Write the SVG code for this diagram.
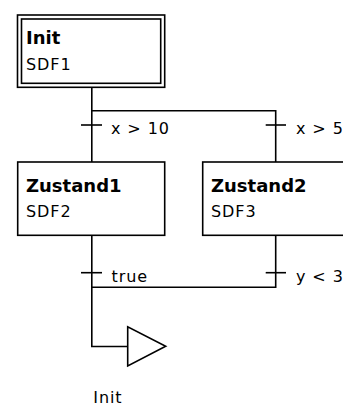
<svg xmlns="http://www.w3.org/2000/svg" width="343" height="407" viewBox="0 0 343 407">
<style>
.box{fill:#fff;stroke:#000;stroke-width:1.6}
.ln{fill:none;stroke:#000;stroke-width:1.6}
.t{font-family:"DejaVu Sans",Verdana,sans-serif;font-size:18px;font-weight:bold;fill:#000}
.s{font-family:"DejaVu Sans",Verdana,sans-serif;font-size:16px;letter-spacing:0.9px;fill:#000}
</style>
<rect width="343" height="407" fill="#fff"/>
<g id="connectors">
<path class="ln" d="M91.8 87.3V110.7H275.7V162"/>
<path class="ln" d="M91.8 110.7V162"/>
<path class="ln" d="M81 125H102"/>
<path class="ln" d="M265.7 125H286"/>
<path class="ln" d="M91.8 235.3V346.5H127.7"/>
<path class="ln" d="M275.7 235.3V287.3H91.8"/>
<path class="ln" d="M81 272.7H102"/>
<path class="ln" d="M265.7 272.7H286"/>
<text class="s" x="111" y="133.5">x &gt; 10</text>
<text class="s" x="296" y="133.5">x &gt; 5</text>
<text class="s" x="111.5" y="282">true</text>
<text class="s" x="296" y="282">y &lt; 3</text>
</g>
<g id="Init">
<rect class="box" x="17.5" y="15" width="147.2" height="72.3"/>
<rect class="box" x="21.5" y="19" width="139.2" height="64.3"/>
<text class="t" x="26" y="44">Init</text>
<text class="s" x="26" y="70">SDF1</text>
</g>
<g id="Zustand1">
<rect class="box" x="17.7" y="162" width="147" height="73.3"/>
<text class="t" x="26" y="191.7">Zustand1</text>
<text class="s" x="26" y="216.7">SDF2</text>
</g>
<g id="Zustand2">
<rect class="box" x="202.7" y="162" width="147" height="73.3"/>
<text class="t" x="211" y="191.7">Zustand2</text>
<text class="s" x="211" y="216.7">SDF3</text>
</g>
<g id="jump_Init">
<path class="ln" d="M127.7 326.7V366L165.7 346.3Z" stroke-linejoin="miter"/>
<text class="s" x="93.3" y="403">Init</text>
</g>
</svg>
